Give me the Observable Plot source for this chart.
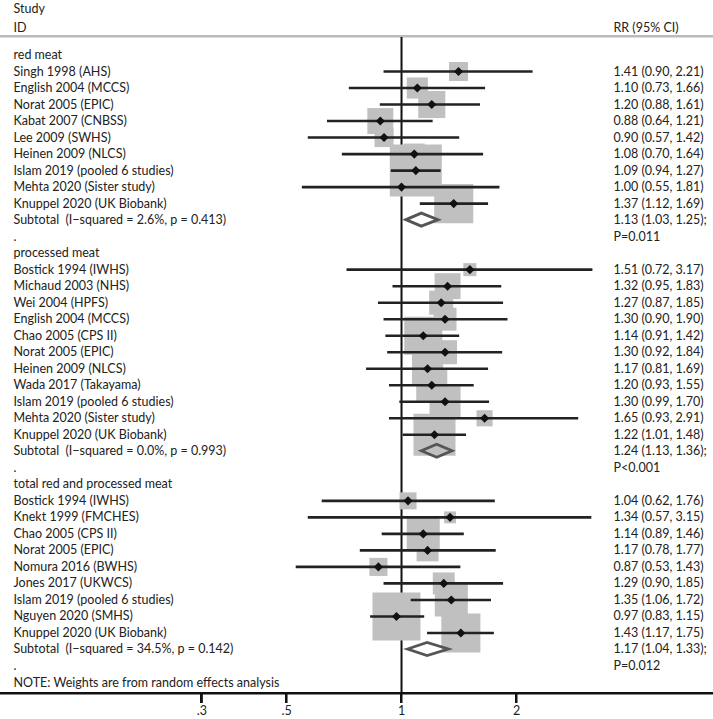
<!DOCTYPE html>
<html>
<head>
<meta charset="utf-8">
<script src="https://cdn.jsdelivr.net/npm/d3@7"></script>
<script src="https://cdn.jsdelivr.net/npm/@observablehq/plot@0.6"></script>
<style>
  body { margin: 0; overflow: hidden; }
  #wrap { position: relative; width: 713px; height: 719px; }
  #chart svg { display: block; max-width: none; }
  .hline { position: absolute; left: 0; width: 713px; height: 2px; }
  .vtick { position: absolute; width: 2px; height: 10px; background: #111; }
</style>
</head>
<body>
<div id="wrap"><div id="chart"></div></div>
<script>
// ---------- data ----------
const groupNames = ["red meat", "processed meat", "total red and processed meat"];

const redStudies = ["Singh 1998 (AHS)", "English 2004 (MCCS)", "Norat 2005 (EPIC)", "Kabat 2007 (CNBSS)", "Lee 2009 (SWHS)", "Heinen 2009 (NLCS)", "Islam 2019 (pooled 6 studies)", "Mehta 2020 (Sister study)", "Knuppel 2020 (UK Biobank)"];
const redRR = [1.41, 1.10, 1.20, 0.88, 0.90, 1.08, 1.09, 1.00, 1.37];
const redLo = [0.90, 0.73, 0.88, 0.64, 0.57, 0.70, 0.94, 0.55, 1.12];
const redHi = [2.21, 1.66, 1.61, 1.21, 1.42, 1.64, 1.27, 1.81, 1.69];
const redW  = [4.9, 6.0, 9.9, 9.1, 4.9, 6.0, 36.5, 3.5, 20.6];

const procStudies = ["Bostick 1994 (IWHS)", "Michaud 2003 (NHS)", "Wei 2004 (HPFS)", "English 2004 (MCCS)", "Chao 2005 (CPS II)", "Norat 2005 (EPIC)", "Heinen 2009 (NLCS)", "Wada 2017 (Takayama)", "Islam 2019 (pooled 6 studies)", "Mehta 2020 (Sister study)", "Knuppel 2020 (UK Biobank)"];
const procRR = [1.51, 1.32, 1.27, 1.30, 1.14, 1.30, 1.17, 1.20, 1.30, 1.65, 1.22];
const procLo = [0.72, 0.95, 0.87, 0.90, 0.91, 0.92, 0.81, 0.93, 0.99, 0.93, 1.01];
const procHi = [3.17, 1.83, 1.85, 1.90, 1.42, 1.84, 1.69, 1.55, 1.70, 2.91, 1.48];
const procW  = [2.3, 9.1, 7.8, 7.1, 19.5, 7.8, 13.0, 13.0, 13.0, 3.5, 23.8];

const totalStudies = ["Bostick 1994 (IWHS)", "Knekt 1999 (FMCHES)", "Chao 2005 (CPS II)", "Norat 2005 (EPIC)", "Nomura 2016 (BWHS)", "Jones 2017 (UKWCS)", "Islam 2019 (pooled 6 studies)", "Nguyen 2020 (SMHS)", "Knuppel 2020 (UK Biobank)"];
const totalRR = [1.04, 1.34, 1.14, 1.17, 0.87, 1.29, 1.35, 0.97, 1.43];
const totalLo = [0.62, 0.57, 0.89, 0.78, 0.53, 0.90, 1.06, 0.83, 1.17];
const totalHi = [1.76, 3.15, 1.46, 1.77, 1.43, 1.85, 1.72, 1.15, 1.75];
const totalW  = [3.9, 1.9, 14.7, 6.5, 4.4, 6.5, 14.7, 31.1, 20.6];

const subI2   = ["2.6%", "0.0%", "34.5%"];
const subHetP = ["0.413", "0.993", "0.142"];
const subRR = [1.13, 1.24, 1.17];
const subLo = [1.03, 1.13, 1.04];
const subHi = [1.25, 1.36, 1.33];
const subP  = ["P=0.011", "P<0.001", "P=0.012"];

const xTicks = [0.3, 0.5, 1, 2];
const xTickLabels = [".3", ".5", "1", "2"];
const noteText = "NOTE: Weights are from random effects analysis";

// ---------- build rows ----------
const groups = [
  {studies: redStudies, rr: redRR, lo: redLo, hi: redHi, w: redW},
  {studies: procStudies, rr: procRR, lo: procLo, hi: procHi, w: procW},
  {studies: totalStudies, rr: totalRR, lo: totalLo, hi: totalHi, w: totalW}
];
const fmt = v => v.toFixed(2);
const labels = [];
const rightText = [];
const studies = [];
const subtotals = [];
let row = 0;
groups.forEach((g, gi) => {
  labels.push({row, text: groupNames[gi]});
  row++;
  g.studies.forEach((s, i) => {
    labels.push({row, text: s});
    rightText.push({row, text: `${fmt(g.rr[i])} (${fmt(g.lo[i])}, ${fmt(g.hi[i])})`});
    studies.push({row, rr: g.rr[i], lo: g.lo[i], hi: g.hi[i], w: g.w[i]});
    row++;
  });
  labels.push({row, text: `Subtotal\u00a0\u00a0(I\u2212squared = ${subI2[gi]}, p = ${subHetP[gi]})`});
  rightText.push({row, text: `${fmt(subRR[gi])} (${fmt(subLo[gi])}, ${fmt(subHi[gi])});`});
  subtotals.push({row, rr: subRR[gi], lo: subLo[gi], hi: subHi[gi]});
  row++;
  labels.push({row, text: "."});
  rightText.push({row, text: subP[gi]});
  row++;
});
labels.push({row, text: noteText});
const lastRow = row;

// ---------- layout ----------
const W = 713, H = 719, MT = 36, MB = 26;
const FONT = "Lato, 'Open Sans', sans-serif";
const FS = 12.5;
const TXT = "#222";

// subtotal diamonds (drawn through the plot's own x/y scales)
const diamondMark = (index, scales) => {
  const g = d3.create("svg:g");
  for (const s of subtotals) {
    const x0 = scales.x(s.lo), xm = scales.x(s.rr), x1 = scales.x(s.hi), y = scales.y(s.row);
    g.append("polygon")
      .attr("points", `${x0},${y} ${xm},${y - 6.5} ${x1},${y} ${xm},${y + 6.5}`)
      .attr("fill", "none")
      .attr("stroke", "#555")
      .attr("stroke-width", 2.8)
      .attr("stroke-linejoin", "miter");
  }
  return g.node();
};

const chart = Plot.plot({
  width: W,
  height: H,
  marginTop: MT,
  marginBottom: MB,
  marginLeft: 0,
  marginRight: 0,
  style: {fontFamily: FONT, fontSize: FS + "px"},
  x: {type: "log", domain: [0.3, 2], range: [201.3, 516], axis: null},
  y: {domain: [0, lastRow], range: [54.5, 682], axis: null},
  r: {type: "sqrt", domain: [0, 36.5], range: [0, 29.35]},
  marks: [
    Plot.frame({anchor: "top", stroke: "#bbb", strokeWidth: 2}),
    Plot.frame({anchor: "bottom", stroke: "#111", strokeWidth: 2}),
    Plot.ruleX([1], {stroke: "#111", strokeWidth: 2}),
    Plot.dot(studies, {x: "rr", y: "row", r: "w", symbol: "square", fill: "#c0c0c0", stroke: "none"}),
    Plot.ruleY(studies, {y: "row", x1: "lo", x2: "hi", stroke: "#222", strokeWidth: 2.6}),
    Plot.dot(studies, {x: "rr", y: "row", r: 4.1, symbol: "diamond2", fill: "#111", stroke: "none"}),
    diamondMark,
    Plot.axisX({ticks: xTicks, tickFormat: d => xTickLabels[xTicks.indexOf(d)], tickSize: 10, tickPadding: 3, stroke: "#111", strokeWidth: 2, fontSize: FS, fill: TXT, label: null}),
    Plot.text(labels, {y: "row", text: "text", frameAnchor: "left", dx: 13, textAnchor: "start", fill: TXT, fontSize: FS, lineAnchor: "middle"}),
    Plot.text(rightText, {y: "row", text: "text", frameAnchor: "left", dx: 613, textAnchor: "start", fill: TXT, fontSize: FS, lineAnchor: "middle"}),
    Plot.text(["Study"], {text: d => d, frameAnchor: "top-left", dx: 13, dy: -28, textAnchor: "start", lineAnchor: "middle", fill: TXT, fontSize: FS}),
    Plot.text(["ID"], {text: d => d, frameAnchor: "top-left", dx: 13, dy: -9, textAnchor: "start", lineAnchor: "middle", fill: TXT, fontSize: FS}),
    Plot.text(["RR (95% CI)"], {text: d => d, frameAnchor: "top-left", dx: 613, dy: -9, textAnchor: "start", lineAnchor: "middle", fill: TXT, fontSize: FS})
  ]
});
document.getElementById("chart").appendChild(chart);

// extra safety: draw header separator, axis line and ticks directly on the SVG
const svg = d3.select(chart);
const xScale = chart.scale("x");
svg.append("line").attr("x1", 0).attr("x2", W).attr("y1", MT).attr("y2", MT)
  .attr("stroke", "#bbb").attr("stroke-width", 2);
svg.append("line").attr("x1", 0).attr("x2", W).attr("y1", H - MB).attr("y2", H - MB)
  .attr("stroke", "#111").attr("stroke-width", 2);
for (const t of xTicks) {
  const x = xScale.apply(t);
  svg.append("line").attr("x1", x).attr("x2", x).attr("y1", H - MB).attr("y2", H - MB + 10)
    .attr("stroke", "#111").attr("stroke-width", 2);
}

// and as HTML overlays in case SVG strokes at the frame edges are lost
const wrap = document.getElementById("wrap");
const addDiv = (cls, style) => {
  const d = document.createElement("div");
  d.className = cls;
  Object.assign(d.style, style);
  wrap.appendChild(d);
};
addDiv("hline", {top: (MT - 1) + "px", background: "#bbb"});
addDiv("hline", {top: (H - MB - 1) + "px", background: "#111"});
for (const t of xTicks) {
  addDiv("vtick", {left: (xScale.apply(t) - 1) + "px", top: (H - MB) + "px"});
}
</script>
</body>
</html>
